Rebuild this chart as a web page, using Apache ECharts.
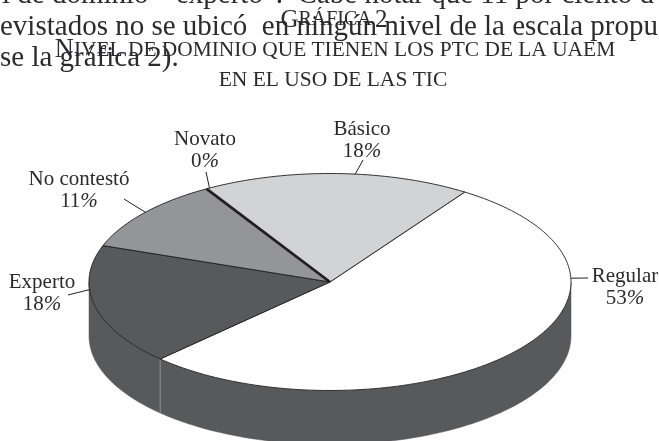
<!DOCTYPE html>
<html><head><meta charset="utf-8">
<style>html,body{margin:0;padding:0;background:#fff}#c{width:659px;height:441px}</style>
<script src="https://cdn.jsdelivr.net/npm/echarts@6/dist/echarts.min.js"></script>
</head><body><div id="c"></div>
<script>
const categories = ['Regular','Experto','No contestó','Novato','Básico'];
const shares = [53,18,11,0,18];
const bodyLines = ['l de dominio  “experto”.  Cabe notar que 11 por ciento d','evistados no se ubicó  en ningún nivel de la escala propu','se la gráfica 2).'];
const titleLines = ['NIVEL DE DOMINIO QUE TIENEN LOS PTC DE LA UAEM','EN EL USO DE LAS TIC'];

const sliceFill = ['#ffffff','#58595b','#939598','#231f20','#d1d3d4'];
const CX=330, CY=282, RX=241, RY=108.5, DEPTH=54, START=56;
const FONT='"Liberation Serif", serif', INK='#2b2b2d';
const labelSpots = [
  {angle:2,   ex:588,ey:278,tx:625,ty:287},
  {angle:184, ex:68, ey:295,tx:42, ty:293},
  {angle:140, ex:124,ey:199,tx:79, ty:190},
  {angle:120, ex:206,ey:172,tx:205,ty:150},
  {angle:84,  ex:363,ey:160,tx:362,ty:140}
];
const total = shares.reduce((a,b)=>a+b,0);
const pt=(deg,dy=0)=>[CX+RX*Math.cos(deg*Math.PI/180),CY-RY*Math.sin(deg*Math.PI/180)+dy];
function range(i){let a=START;for(let k=0;k<i;k++)a-=shares[k]/total*360;return [a,a-shares[i]/total*360];}
function arc(a,b,dy){const n=Math.max(1,Math.ceil(Math.abs(a-b)/1.5)),o=[];for(let k=0;k<=n;k++)o.push(pt(a+(b-a)*k/n,dy));return o;}

function renderWall(params,api){
  const i=params.dataIndex,[a,b]=range(i);
  const from=Math.min(a,0),to=Math.max(b,-180),kids=[];
  if(from>to){
    kids.push({type:'polygon',shape:{points:arc(from,to,0).concat(arc(to,from,DEPTH))},style:{fill:'#58595b',stroke:'#58595b',lineWidth:.5}});
  }
  if(b<0&&b>-180&&shares[i]>0){
    const p=pt(b);
    kids.push({type:'line',z2:5,shape:{x1:p[0],y1:p[1],x2:p[0],y2:p[1]+DEPTH},style:{stroke:'#8c8d8f',lineWidth:1}});
  }
  return {type:'group',children:kids};
}
function renderTop(params,api){
  const i=params.dataIndex,[a,b]=range(i),v=api.value(0);
  const pts=[[CX,CY]].concat(arc(a,b,0));
  if(v===0){
    const p=pt(a);
    return {type:'line',z2:10,shape:{x1:CX,y1:CY,x2:p[0],y2:p[1]},style:{stroke:sliceFill[i],lineWidth:2.8}};
  }
  return {type:'polygon',z2:i===0?1:2,shape:{points:pts},style:{fill:sliceFill[i],stroke:'#231f20',lineWidth:.9}};
}
function renderLabel(params,api){
  const i=params.dataIndex,s=labelSpots[i],p=pt(s.angle);
  return {type:'group',children:[
    {type:'line',shape:{x1:p[0],y1:p[1],x2:s.ex,y2:s.ey},style:{stroke:'#231f20',lineWidth:1}},
    {type:'text',x:s.tx,y:s.ty,style:{
      text:`{n|${categories[i]}}\n{n|${api.value(0)}}{p|%}`,
      align:'center',verticalAlign:'middle',
      rich:{n:{fontFamily:FONT,fontSize:21,lineHeight:22,fill:INK},p:{fontFamily:FONT,fontSize:21,fontStyle:'italic',lineHeight:22,fill:INK}}
    }}
  ]};
}
const txt=(text,x,y,size,align='left',extra={})=>({type:'text',x,y,z:20,style:Object.assign({text,font:`${size}px ${FONT}`,fill:INK,textAlign:align,textVerticalAlign:'middle'},extra)});
const items=shares.map((v,i)=>({name:categories[i],value:v}));
const chart=echarts.init(document.getElementById('c'),null,{renderer:'canvas'});
const head=s=>({a:{fontFamily:FONT,fontSize:s+5,fill:INK},b:{fontFamily:FONT,fontSize:s,fill:INK}});
chart.setOption({
  animation:false,
  backgroundColor:'#fff',
  graphic:[
    txt(bodyLines[0],2,-5,29),
    txt(bodyLines[1],0,27,29),
    txt(bodyLines[2],0,58,29),
    {type:'text',x:334,y:20,z:21,style:{text:'{a|G}{b|RÁFICA} {a|2}',align:'center',verticalAlign:'middle',rich:head(20)}},
    {type:'text',x:335,y:50,z:21,style:{text:'{a|N}{b|IVEL DE DOMINIO QUE TIENEN LOS PTC DE LA UAEM}',align:'center',verticalAlign:'middle',rich:head(21.4)}},
    txt(titleLines[1],333,80,21.5,'center')
  ],
  series:[
    {type:'custom',coordinateSystem:'none',z:1,silent:true,clip:false,data:items,renderItem:renderWall},
    {type:'custom',coordinateSystem:'none',z:2,silent:true,clip:false,data:items,renderItem:renderTop},
    {type:'custom',coordinateSystem:'none',z:3,silent:true,clip:false,data:items,renderItem:renderLabel}
  ]
});
</script></body></html>
